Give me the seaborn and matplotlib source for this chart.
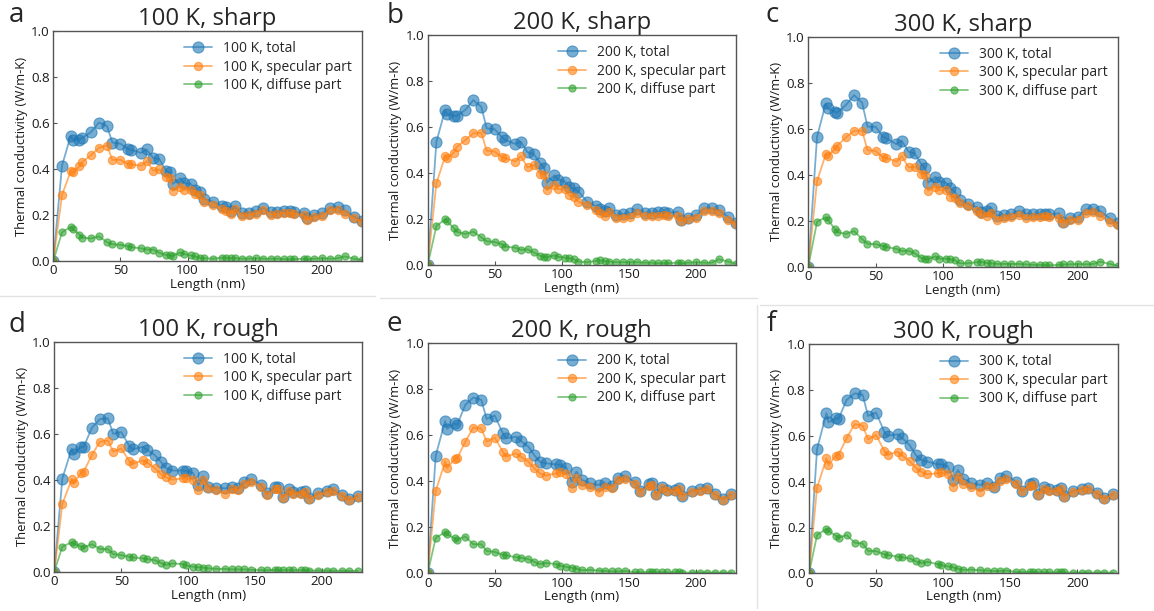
import matplotlib
matplotlib.use("Agg")
import matplotlib.pyplot as plt
import seaborn as sns
import pandas as pd
from matplotlib.lines import Line2D

# ---------------- data ----------------
length_sharp = [0, 6.5, 13, 14.5, 19.5, 21.5, 28, 34, 40, 44,
                50, 55.5, 58, 65.5, 69.5, 74.5, 79, 84, 87, 89,
                94.5, 97.5, 102.5, 105.5, 109, 112.5, 119, 125.5, 128.5, 132.5,
                135.5, 140.5, 145.5, 151, 156.5, 162, 167, 172, 176, 179,
                186.5, 189, 194.5, 200.5, 206.5, 212, 217, 224, 230]

k100_sharp_total = [0, 0.415, 0.545, 0.528, 0.528, 0.535, 0.56, 0.602, 0.587, 0.515,
                    0.51, 0.488, 0.483, 0.47, 0.485, 0.447, 0.443, 0.392, 0.385, 0.335,
                    0.36, 0.338, 0.335, 0.31, 0.30, 0.27, 0.258, 0.24, 0.235, 0.218,
                    0.238, 0.207, 0.21, 0.217, 0.23, 0.212, 0.215, 0.217, 0.217, 0.213,
                    0.21, 0.186, 0.2, 0.207, 0.232, 0.235, 0.22, 0.193, 0.174]
k100_sharp_spec = [0, 0.288, 0.39, 0.385, 0.412, 0.43, 0.46, 0.492, 0.502, 0.44,
                   0.44, 0.422, 0.42, 0.414, 0.434, 0.393, 0.398, 0.365, 0.36, 0.305,
                   0.323, 0.31, 0.31, 0.29, 0.285, 0.258, 0.245, 0.226, 0.218, 0.205,
                   0.225, 0.197, 0.2, 0.205, 0.22, 0.202, 0.205, 0.208, 0.21, 0.205,
                   0.198, 0.18, 0.19, 0.195, 0.222, 0.222, 0.205, 0.185, 0.17]
k100_sharp_diff = [0, 0.125, 0.148, 0.14, 0.115, 0.102, 0.098, 0.107, 0.082, 0.073,
                   0.07, 0.065, 0.06, 0.055, 0.05, 0.05, 0.036, 0.026, 0.024, 0.022,
                   0.037, 0.03, 0.024, 0.02, 0.014, 0.012, 0.01, 0.014, 0.015, 0.012,
                   0.012, 0.01, 0.01, 0.012, 0.01, 0.01, 0.01, 0.008, 0.007, 0.008,
                   0.01, 0.007, 0.01, 0.012, 0.01, 0.012, 0.02, 0.01, 0.005]

k200_sharp_total = [0, 0.536, 0.674, 0.655, 0.648, 0.648, 0.674, 0.717, 0.688, 0.594,
                    0.59, 0.555, 0.543, 0.526, 0.536, 0.49, 0.483, 0.442, 0.42, 0.358,
                    0.39, 0.37, 0.362, 0.34, 0.333, 0.319, 0.275, 0.256, 0.242, 0.235,
                    0.25, 0.217, 0.222, 0.224, 0.242, 0.228, 0.226, 0.23, 0.23, 0.226,
                    0.232, 0.196, 0.203, 0.217, 0.246, 0.246, 0.239, 0.21, 0.184]
k200_sharp_spec = [0, 0.355, 0.474, 0.464, 0.488, 0.512, 0.543, 0.572, 0.575, 0.497,
                   0.493, 0.468, 0.464, 0.45, 0.474, 0.425, 0.435, 0.396, 0.391, 0.326,
                   0.348, 0.33, 0.329, 0.304, 0.297, 0.275, 0.261, 0.239, 0.225, 0.215,
                   0.232, 0.203, 0.205, 0.21, 0.225, 0.213, 0.215, 0.215, 0.218, 0.215,
                   0.212, 0.19, 0.202, 0.205, 0.235, 0.235, 0.225, 0.195, 0.178]
k200_sharp_diff = [0, 0.17, 0.198, 0.19, 0.16, 0.145, 0.135, 0.145, 0.12, 0.103,
                   0.1, 0.09, 0.08, 0.075, 0.066, 0.068, 0.055, 0.04, 0.035, 0.034,
                   0.042, 0.035, 0.032, 0.03, 0.025, 0.015, 0.012, 0.018, 0.02, 0.016,
                   0.015, 0.012, 0.012, 0.012, 0.012, 0.01, 0.01, 0.008, 0.008, 0.008,
                   0.01, 0.008, 0.01, 0.012, 0.01, 0.01, 0.025, 0.015, 0.005]

k300_sharp_total = [0, 0.565, 0.71, 0.688, 0.674, 0.67, 0.703, 0.746, 0.713, 0.609,
                    0.609, 0.565, 0.558, 0.533, 0.548, 0.5, 0.493, 0.446, 0.428, 0.365,
                    0.391, 0.37, 0.365, 0.34, 0.326, 0.29, 0.272, 0.258, 0.239, 0.24,
                    0.254, 0.222, 0.225, 0.229, 0.243, 0.23, 0.228, 0.23, 0.23, 0.228,
                    0.232, 0.196, 0.21, 0.217, 0.25, 0.25, 0.242, 0.21, 0.188]
k300_sharp_spec = [0, 0.372, 0.49, 0.483, 0.51, 0.526, 0.562, 0.591, 0.591, 0.507,
                   0.503, 0.475, 0.473, 0.457, 0.481, 0.432, 0.435, 0.403, 0.4, 0.33,
                   0.348, 0.333, 0.333, 0.305, 0.3, 0.275, 0.262, 0.24, 0.228, 0.222,
                   0.235, 0.205, 0.21, 0.215, 0.225, 0.213, 0.215, 0.218, 0.222, 0.218,
                   0.212, 0.19, 0.203, 0.205, 0.235, 0.238, 0.222, 0.196, 0.18]
k300_sharp_diff = [0, 0.195, 0.215, 0.205, 0.165, 0.15, 0.143, 0.155, 0.12, 0.1,
                   0.098, 0.09, 0.085, 0.078, 0.068, 0.07, 0.058, 0.038, 0.033, 0.033,
                   0.045, 0.035, 0.035, 0.032, 0.028, 0.015, 0.015, 0.02, 0.022, 0.016,
                   0.015, 0.012, 0.012, 0.012, 0.012, 0.01, 0.008, 0.008, 0.008, 0.006,
                   0.008, 0.01, 0.01, 0.012, 0.01, 0.012, 0.022, 0.012, 0.004]

length_rough = [0, 6, 13, 14.5, 20, 22, 28, 34, 40, 44,
                50, 56, 58.5, 66, 69.5, 75, 79.5, 83.5, 88, 96,
                98.5, 103.5, 107.5, 111, 115, 121, 127.5, 132.5, 137.5, 142,
                147, 154.5, 158.5, 165, 167, 170.5, 175, 178.5, 184.5, 187.5,
                190, 197, 203.5, 208, 214.5, 220, 226.5]

k100_rough_total = [0, 0.405, 0.535, 0.512, 0.543, 0.543, 0.625, 0.663, 0.667, 0.599,
                    0.607, 0.547, 0.532, 0.543, 0.529, 0.507, 0.478, 0.45, 0.44, 0.44,
                    0.438, 0.43, 0.377, 0.415, 0.37, 0.365, 0.362, 0.367, 0.362, 0.39,
                    0.402, 0.377, 0.341, 0.367, 0.37, 0.326, 0.358, 0.345, 0.348, 0.352,
                    0.319, 0.341, 0.352, 0.358, 0.333, 0.315, 0.33]
k100_rough_spec = [0, 0.294, 0.403, 0.384, 0.43, 0.435, 0.507, 0.565, 0.57, 0.522,
                   0.536, 0.481, 0.468, 0.484, 0.474, 0.45, 0.425, 0.41, 0.4, 0.406,
                   0.406, 0.40, 0.355, 0.399, 0.363, 0.355, 0.34, 0.36, 0.355, 0.38,
                   0.39, 0.37, 0.335, 0.36, 0.36, 0.32, 0.35, 0.34, 0.34, 0.345,
                   0.315, 0.335, 0.345, 0.35, 0.33, 0.31, 0.325]
k100_rough_diff = [0, 0.109, 0.128, 0.122, 0.11, 0.105, 0.12, 0.099, 0.098, 0.077,
                   0.072, 0.065, 0.062, 0.058, 0.055, 0.05, 0.038, 0.03, 0.036, 0.033,
                   0.027, 0.022, 0.02, 0.018, 0.015, 0.012, 0.012, 0.01, 0.01, 0.01,
                   0.008, 0.007, 0.006, 0.008, 0.008, 0.006, 0.007, 0.006, 0.006, 0.008,
                   0.005, 0.005, 0.005, 0.004, 0.004, 0.003, 0.004]

k200_rough_total = [0, 0.512, 0.662, 0.628, 0.652, 0.645, 0.732, 0.764, 0.754, 0.671,
                    0.686, 0.609, 0.587, 0.594, 0.575, 0.551, 0.514, 0.486, 0.478, 0.474,
                    0.471, 0.459, 0.399, 0.442, 0.406, 0.391, 0.384, 0.391, 0.38, 0.413,
                    0.425, 0.396, 0.359, 0.387, 0.391, 0.343, 0.377, 0.362, 0.362, 0.372,
                    0.338, 0.358, 0.367, 0.372, 0.343, 0.323, 0.343]
k200_rough_spec = [0, 0.358, 0.486, 0.457, 0.497, 0.5, 0.572, 0.633, 0.63, 0.572,
                   0.59, 0.529, 0.507, 0.522, 0.507, 0.486, 0.457, 0.435, 0.425, 0.435,
                   0.439, 0.43, 0.372, 0.416, 0.384, 0.375, 0.352, 0.375, 0.372, 0.405,
                   0.41, 0.39, 0.355, 0.38, 0.385, 0.34, 0.37, 0.357, 0.357, 0.365,
                   0.335, 0.355, 0.36, 0.368, 0.34, 0.32, 0.34]
k200_rough_diff = [0, 0.155, 0.178, 0.17, 0.152, 0.145, 0.16, 0.126, 0.126, 0.097,
                   0.093, 0.08, 0.078, 0.07, 0.068, 0.062, 0.05, 0.04, 0.045, 0.04,
                   0.033, 0.028, 0.025, 0.02, 0.013, 0.015, 0.012, 0.01, 0.008, 0.008,
                   0.01, 0.005, 0.004, 0.006, 0.006, 0.004, 0.005, 0.004, 0.004, 0.006,
                   0.003, 0.003, 0.003, 0.003, 0.003, 0.003, 0.003]

k300_rough_total = [0, 0.543, 0.699, 0.659, 0.677, 0.674, 0.757, 0.786, 0.779, 0.687,
                    0.702, 0.619, 0.601, 0.607, 0.59, 0.56, 0.517, 0.495, 0.488, 0.476,
                    0.476, 0.466, 0.408, 0.451, 0.412, 0.393, 0.386, 0.393, 0.378, 0.415,
                    0.426, 0.4, 0.36, 0.389, 0.393, 0.345, 0.378, 0.368, 0.364, 0.371,
                    0.338, 0.36, 0.368, 0.374, 0.349, 0.328, 0.346]
k300_rough_spec = [0, 0.374, 0.502, 0.473, 0.514, 0.517, 0.59, 0.651, 0.645, 0.585,
                   0.604, 0.536, 0.517, 0.531, 0.514, 0.49, 0.461, 0.444, 0.432, 0.437,
                   0.441, 0.432, 0.378, 0.422, 0.389, 0.378, 0.357, 0.38, 0.375, 0.405,
                   0.41, 0.39, 0.358, 0.383, 0.387, 0.343, 0.37, 0.36, 0.36, 0.367,
                   0.335, 0.357, 0.363, 0.37, 0.345, 0.325, 0.343]
k300_rough_diff = [0, 0.167, 0.194, 0.185, 0.164, 0.155, 0.167, 0.134, 0.13, 0.098,
                   0.097, 0.083, 0.08, 0.073, 0.07, 0.065, 0.052, 0.045, 0.05, 0.04,
                   0.035, 0.03, 0.026, 0.02, 0.015, 0.016, 0.013, 0.012, 0.01, 0.01,
                   0.012, 0.006, 0.005, 0.006, 0.006, 0.004, 0.005, 0.004, 0.004, 0.006,
                   0.004, 0.003, 0.003, 0.003, 0.003, 0.003, 0.003]

panel_letters = ["a", "b", "c", "d", "e", "f"]
panel_titles = ["100 K, sharp", "200 K, sharp", "300 K, sharp",
                "100 K, rough", "200 K, rough", "300 K, rough"]
temperatures = ["100 K", "200 K", "300 K", "100 K", "200 K", "300 K"]
x_ticks = [0, 50, 100, 150, 200]
y_ticks = [0.0, 0.2, 0.4, 0.6, 0.8, 1.0]

panels = [
    (length_sharp, k100_sharp_total, k100_sharp_spec, k100_sharp_diff),
    (length_sharp, k200_sharp_total, k200_sharp_spec, k200_sharp_diff),
    (length_sharp, k300_sharp_total, k300_sharp_spec, k300_sharp_diff),
    (length_rough, k100_rough_total, k100_rough_spec, k100_rough_diff),
    (length_rough, k200_rough_total, k200_rough_spec, k200_rough_diff),
    (length_rough, k300_rough_total, k300_rough_spec, k300_rough_diff),
]

# ---------------- style ----------------
sns.set_style("ticks", {"xtick.direction": "in", "ytick.direction": "in"})
plt.rcParams["font.family"] = ["Open Sans", "DejaVu Sans"]
plt.rcParams["axes.edgecolor"] = "#555555"
plt.rcParams["axes.linewidth"] = 1.0

W, H = 1154, 611
fig = plt.figure(figsize=(W / 100, H / 100), dpi=100)

# axes boxes in pixels: left, right, top, bottom
boxes = [
    (53.3, 362.0, 31.0, 261.0),
    (427.7, 736.0, 35.0, 265.0),
    (808.3, 1117.7, 36.7, 266.7),
    (54.3, 362.3, 341.7, 571.7),
    (427.7, 736.0, 343.3, 573.3),
    (809.0, 1117.7, 344.3, 573.3),
]
letter_pos = [(9, 22), (387, 23), (766, 22), (9, 332), (387, 331), (767, 331)]

colors = ["#1f77b4", "#ff7f0e", "#2ca02c"]
msizes = [8.0, 6.0, 5.2]

for i, (lx, tot, spec, diff) in enumerate(panels):
    l, r, t, b = boxes[i]
    ax = fig.add_axes([l / W, 1 - b / H, (r - l) / W, (b - t) / H])
    temp = temperatures[i]
    series = [(tot, f"{temp}, total"), (spec, f"{temp}, specular part"),
              (diff, f"{temp}, diffuse part")]
    for j, (vals, lab) in enumerate(series):
        assert len(vals) == len(lx), (i, j, len(vals), len(lx))
        df = pd.DataFrame({"Length": lx, "k": vals})
        sns.lineplot(data=df, x="Length", y="k", ax=ax, color=colors[j],
                     marker="o", markersize=msizes[j], alpha=0.6,
                     markeredgecolor=colors[j], markeredgewidth=0.8,
                     linewidth=1.3, estimator=None, sort=False, label=lab,
                     legend=False)
    ax.set_xlim(0, 230)
    ax.set_ylim(0, 1.0)
    ax.set_xticks(x_ticks)
    ax.set_yticks(y_ticks)
    ax.set_yticklabels([f"{v:.1f}" for v in y_ticks])
    ax.tick_params(axis="both", labelsize=9.6, direction="in", length=3,
                   width=0.8, pad=2.5, colors="#555555", labelcolor="#1a1a1a")
    ax.set_xlabel("Length (nm)", fontsize=9.6, labelpad=0.5, color="#1a1a1a")
    ax.set_ylabel("Thermal conductivity (W/m-K)", fontsize=9.4, labelpad=2.5,
                  color="#1a1a1a")
    for sp in ax.spines.values():
        sp.set_visible(True)
        sp.set_color("#555555")
    ax.set_title(panel_titles[i], fontsize=17.2, pad=3)
    ax.legend(loc="upper right", frameon=False, fontsize=10.0,
              labelspacing=0.25, handlelength=2.0, borderaxespad=0.05,
              bbox_to_anchor=(0.987, 0.983))
    fx, fy = letter_pos[i]
    fig.text(fx / W, 1 - fy / H, panel_letters[i], fontsize=20,
             ha="left", va="baseline")

# faint separators of the composed figure
sep = "#e2e2e2"
fig.add_artist(Line2D([0, 375 / W], [1 - 296 / H, 1 - 296 / H], color=sep, lw=1))
fig.add_artist(Line2D([380 / W, 757 / W], [1 - 298 / H, 1 - 298 / H], color=sep, lw=1))
fig.add_artist(Line2D([760 / W, 1, ], [1 - 305 / H, 1 - 305 / H], color=sep, lw=1))
fig.add_artist(Line2D([757 / W, 757 / W], [1 - 305 / H, 1 - 608 / H], color=sep, lw=1))

fig.savefig("out.png", dpi=100)
